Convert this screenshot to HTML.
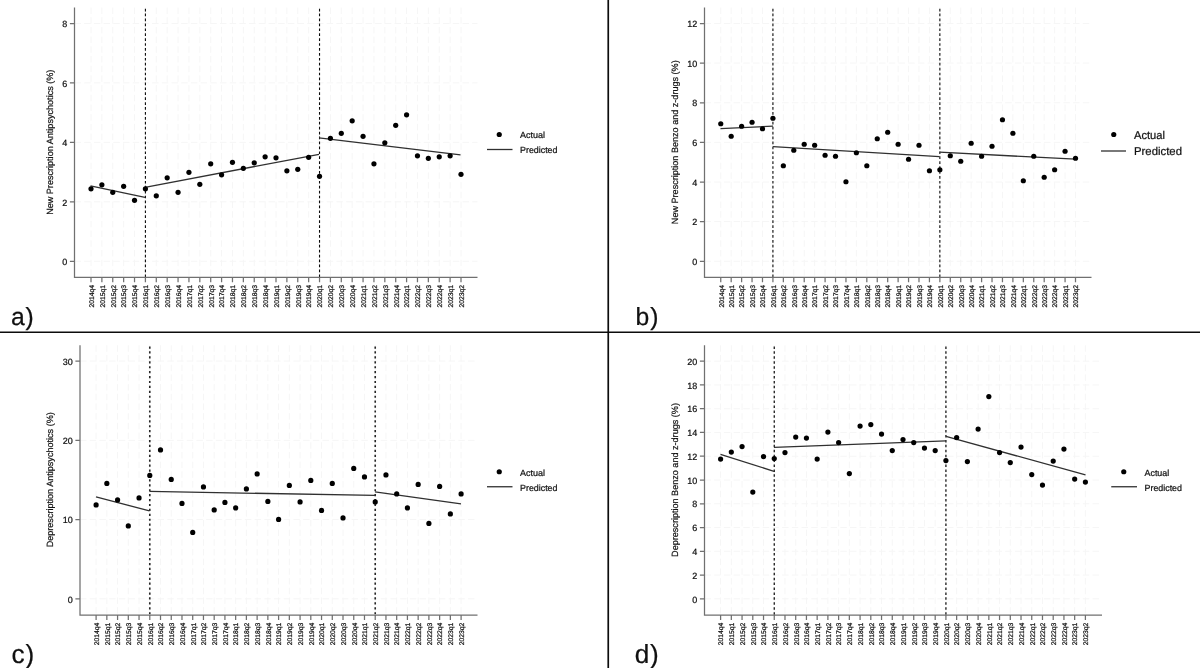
<!DOCTYPE html>
<html lang="en"><head><meta charset="utf-8"><title>Interrupted time series</title>
<style>
html,body{margin:0;padding:0;background:#fff;}
body{width:1200px;height:668px;overflow:hidden;}
svg{display:block;text-rendering:geometricPrecision;font-family:"Liberation Sans",Arial,Helvetica,sans-serif;}
.ax{stroke:#707070;stroke-width:1.25;fill:none;}
.grid{stroke:#f6f6f6;stroke-width:1;stroke-dasharray:6.5 3.2;fill:none;}
.v{fill:none;}
.pred{stroke:#303030;stroke-width:1.3;fill:none;}
.dot{fill:#000;}
text{fill:#111;stroke:#111;stroke-width:0.22;}
</style></head><body>
<svg width="1200" height="668" viewBox="0 0 1200 668">
<rect width="1200" height="668" fill="#fff"/>

<g id="panel-a">
<path class="grid" d="M91.00 7.50V277.45M101.88 7.50V277.45M112.76 7.50V277.45M123.65 7.50V277.45M134.53 7.50V277.45M145.41 7.50V277.45M156.29 7.50V277.45M167.18 7.50V277.45M178.06 7.50V277.45M188.94 7.50V277.45M199.82 7.50V277.45M210.71 7.50V277.45M221.59 7.50V277.45M232.47 7.50V277.45M243.35 7.50V277.45M254.24 7.50V277.45M265.12 7.50V277.45M276.00 7.50V277.45M286.88 7.50V277.45M297.76 7.50V277.45M308.65 7.50V277.45M319.53 7.50V277.45M330.41 7.50V277.45M341.29 7.50V277.45M352.18 7.50V277.45M363.06 7.50V277.45M373.94 7.50V277.45M384.82 7.50V277.45M395.71 7.50V277.45M406.59 7.50V277.45M417.47 7.50V277.45M428.35 7.50V277.45M439.24 7.50V277.45M450.12 7.50V277.45M461.00 7.50V277.45M74.50 23.50H477.50M74.50 82.90H477.50M74.50 142.40H477.50M74.50 201.80H477.50M74.50 261.25H477.50"/>
<path class="v" stroke="#0a0a0a" stroke-width="1.1" stroke-dasharray="2.7 2.22" d="M145.41 8.70V277.45"/>
<path class="v" stroke="#0a0a0a" stroke-width="1.1" stroke-dasharray="2.7 2.22" d="M319.53 8.70V277.45"/>
<path class="ax" d="M74.50 7.50V277.45H477.50M69.90 23.50H74.50M69.90 82.90H74.50M69.90 142.40H74.50M69.90 201.80H74.50M69.90 261.25H74.50M91.00 277.45V282.35M101.88 277.45V282.35M112.76 277.45V282.35M123.65 277.45V282.35M134.53 277.45V282.35M145.41 277.45V282.35M156.29 277.45V282.35M167.18 277.45V282.35M178.06 277.45V282.35M188.94 277.45V282.35M199.82 277.45V282.35M210.71 277.45V282.35M221.59 277.45V282.35M232.47 277.45V282.35M243.35 277.45V282.35M254.24 277.45V282.35M265.12 277.45V282.35M276.00 277.45V282.35M286.88 277.45V282.35M297.76 277.45V282.35M308.65 277.45V282.35M319.53 277.45V282.35M330.41 277.45V282.35M341.29 277.45V282.35M352.18 277.45V282.35M363.06 277.45V282.35M373.94 277.45V282.35M384.82 277.45V282.35M395.71 277.45V282.35M406.59 277.45V282.35M417.47 277.45V282.35M428.35 277.45V282.35M439.24 277.45V282.35M450.12 277.45V282.35M461.00 277.45V282.35"/>
<text x="67.20" y="27.20" font-size="9" text-anchor="end">8</text>
<text x="67.20" y="86.60" font-size="9" text-anchor="end">6</text>
<text x="67.20" y="146.10" font-size="9" text-anchor="end">4</text>
<text x="67.20" y="205.50" font-size="9" text-anchor="end">2</text>
<text x="67.20" y="264.95" font-size="9" text-anchor="end">0</text>
<text transform="translate(93.80 285.05) rotate(-90)" font-size="6.75" text-anchor="end">2014q4</text>
<text transform="translate(104.68 285.05) rotate(-90)" font-size="6.75" text-anchor="end">2015q1</text>
<text transform="translate(115.56 285.05) rotate(-90)" font-size="6.75" text-anchor="end">2015q2</text>
<text transform="translate(126.45 285.05) rotate(-90)" font-size="6.75" text-anchor="end">2015q3</text>
<text transform="translate(137.33 285.05) rotate(-90)" font-size="6.75" text-anchor="end">2015q4</text>
<text transform="translate(148.21 285.05) rotate(-90)" font-size="6.75" text-anchor="end">2016q1</text>
<text transform="translate(159.09 285.05) rotate(-90)" font-size="6.75" text-anchor="end">2016q2</text>
<text transform="translate(169.98 285.05) rotate(-90)" font-size="6.75" text-anchor="end">2016q3</text>
<text transform="translate(180.86 285.05) rotate(-90)" font-size="6.75" text-anchor="end">2016q4</text>
<text transform="translate(191.74 285.05) rotate(-90)" font-size="6.75" text-anchor="end">2017q1</text>
<text transform="translate(202.62 285.05) rotate(-90)" font-size="6.75" text-anchor="end">2017q2</text>
<text transform="translate(213.51 285.05) rotate(-90)" font-size="6.75" text-anchor="end">2017q3</text>
<text transform="translate(224.39 285.05) rotate(-90)" font-size="6.75" text-anchor="end">2017q4</text>
<text transform="translate(235.27 285.05) rotate(-90)" font-size="6.75" text-anchor="end">2018q1</text>
<text transform="translate(246.15 285.05) rotate(-90)" font-size="6.75" text-anchor="end">2018q2</text>
<text transform="translate(257.04 285.05) rotate(-90)" font-size="6.75" text-anchor="end">2018q3</text>
<text transform="translate(267.92 285.05) rotate(-90)" font-size="6.75" text-anchor="end">2018q4</text>
<text transform="translate(278.80 285.05) rotate(-90)" font-size="6.75" text-anchor="end">2019q1</text>
<text transform="translate(289.68 285.05) rotate(-90)" font-size="6.75" text-anchor="end">2019q2</text>
<text transform="translate(300.56 285.05) rotate(-90)" font-size="6.75" text-anchor="end">2019q3</text>
<text transform="translate(311.45 285.05) rotate(-90)" font-size="6.75" text-anchor="end">2019q4</text>
<text transform="translate(322.33 285.05) rotate(-90)" font-size="6.75" text-anchor="end">2020q1</text>
<text transform="translate(333.21 285.05) rotate(-90)" font-size="6.75" text-anchor="end">2020q2</text>
<text transform="translate(344.09 285.05) rotate(-90)" font-size="6.75" text-anchor="end">2020q3</text>
<text transform="translate(354.98 285.05) rotate(-90)" font-size="6.75" text-anchor="end">2020q4</text>
<text transform="translate(365.86 285.05) rotate(-90)" font-size="6.75" text-anchor="end">2021q1</text>
<text transform="translate(376.74 285.05) rotate(-90)" font-size="6.75" text-anchor="end">2021q2</text>
<text transform="translate(387.62 285.05) rotate(-90)" font-size="6.75" text-anchor="end">2021q3</text>
<text transform="translate(398.51 285.05) rotate(-90)" font-size="6.75" text-anchor="end">2021q4</text>
<text transform="translate(409.39 285.05) rotate(-90)" font-size="6.75" text-anchor="end">2022q1</text>
<text transform="translate(420.27 285.05) rotate(-90)" font-size="6.75" text-anchor="end">2022q2</text>
<text transform="translate(431.15 285.05) rotate(-90)" font-size="6.75" text-anchor="end">2022q3</text>
<text transform="translate(442.04 285.05) rotate(-90)" font-size="6.75" text-anchor="end">2022q4</text>
<text transform="translate(452.92 285.05) rotate(-90)" font-size="6.75" text-anchor="end">2023q1</text>
<text transform="translate(463.80 285.05) rotate(-90)" font-size="6.75" text-anchor="end">2023q2</text>
<text transform="translate(52.80 142.25) rotate(-90)" font-size="9.07" text-anchor="middle" textLength="145.2" lengthAdjust="spacingAndGlyphs">New Prescription Antipsychotics (%)</text>
<path class="pred" d="M90.50 185.80L145.00 197.30"/>
<path class="pred" d="M145.00 187.30L319.00 154.30"/>
<path class="pred" d="M319.00 137.80L460.50 154.80"/>
<circle class="dot" cx="91.00" cy="188.80" r="2.6"/>
<circle class="dot" cx="101.88" cy="184.80" r="2.6"/>
<circle class="dot" cx="112.76" cy="192.30" r="2.6"/>
<circle class="dot" cx="123.65" cy="186.30" r="2.6"/>
<circle class="dot" cx="134.53" cy="200.30" r="2.6"/>
<circle class="dot" cx="145.41" cy="188.80" r="2.6"/>
<circle class="dot" cx="156.29" cy="195.80" r="2.6"/>
<circle class="dot" cx="167.18" cy="177.80" r="2.6"/>
<circle class="dot" cx="178.06" cy="192.30" r="2.6"/>
<circle class="dot" cx="188.94" cy="172.30" r="2.6"/>
<circle class="dot" cx="199.82" cy="184.30" r="2.6"/>
<circle class="dot" cx="210.71" cy="163.80" r="2.6"/>
<circle class="dot" cx="221.59" cy="174.80" r="2.6"/>
<circle class="dot" cx="232.47" cy="162.30" r="2.6"/>
<circle class="dot" cx="243.35" cy="168.30" r="2.6"/>
<circle class="dot" cx="254.24" cy="162.80" r="2.6"/>
<circle class="dot" cx="265.12" cy="156.80" r="2.6"/>
<circle class="dot" cx="276.00" cy="157.80" r="2.6"/>
<circle class="dot" cx="286.88" cy="170.80" r="2.6"/>
<circle class="dot" cx="297.76" cy="169.30" r="2.6"/>
<circle class="dot" cx="308.65" cy="157.30" r="2.6"/>
<circle class="dot" cx="319.53" cy="176.30" r="2.6"/>
<circle class="dot" cx="330.41" cy="138.30" r="2.6"/>
<circle class="dot" cx="341.29" cy="133.30" r="2.6"/>
<circle class="dot" cx="352.18" cy="120.80" r="2.6"/>
<circle class="dot" cx="363.06" cy="136.30" r="2.6"/>
<circle class="dot" cx="373.94" cy="163.80" r="2.6"/>
<circle class="dot" cx="384.82" cy="142.80" r="2.6"/>
<circle class="dot" cx="395.71" cy="125.30" r="2.6"/>
<circle class="dot" cx="406.59" cy="114.80" r="2.6"/>
<circle class="dot" cx="417.47" cy="155.80" r="2.6"/>
<circle class="dot" cx="428.35" cy="158.30" r="2.6"/>
<circle class="dot" cx="439.24" cy="156.80" r="2.6"/>
<circle class="dot" cx="450.12" cy="155.80" r="2.6"/>
<circle class="dot" cx="461.00" cy="174.30" r="2.6"/>
<circle class="dot" cx="499.25" cy="134.5" r="2.6"/>
<path class="pred" d="M487 149.5H512.5"/>
<text x="520" y="138.20" font-size="8.9" textLength="25" lengthAdjust="spacingAndGlyphs">Actual</text>
<text x="520" y="153.20" font-size="8.9" textLength="37.5" lengthAdjust="spacingAndGlyphs">Predicted</text>
<text x="11.0" y="324.8" font-size="24.7" fill="#111" stroke="none">a<tspan dx="0.8">)</tspan></text>
</g>
<g id="panel-b">
<path class="grid" d="M720.75 7.50V277.45M731.18 7.50V277.45M741.62 7.50V277.45M752.05 7.50V277.45M762.49 7.50V277.45M772.92 7.50V277.45M783.35 7.50V277.45M793.79 7.50V277.45M804.22 7.50V277.45M814.65 7.50V277.45M825.09 7.50V277.45M835.52 7.50V277.45M845.96 7.50V277.45M856.39 7.50V277.45M866.82 7.50V277.45M877.26 7.50V277.45M887.69 7.50V277.45M898.12 7.50V277.45M908.56 7.50V277.45M918.99 7.50V277.45M929.43 7.50V277.45M939.86 7.50V277.45M950.29 7.50V277.45M960.73 7.50V277.45M971.16 7.50V277.45M981.60 7.50V277.45M992.03 7.50V277.45M1002.46 7.50V277.45M1012.90 7.50V277.45M1023.33 7.50V277.45M1033.76 7.50V277.45M1044.20 7.50V277.45M1054.63 7.50V277.45M1065.07 7.50V277.45M1075.50 7.50V277.45M704.50 23.50H1091.50M704.50 63.10H1091.50M704.50 102.75H1091.50M704.50 142.40H1091.50M704.50 182.00H1091.50M704.50 221.60H1091.50M704.50 261.25H1091.50"/>
<path class="v" stroke="#0a0a0a" stroke-width="1.1" stroke-dasharray="2.7 2.22" d="M772.92 8.70V277.45"/>
<path class="v" stroke="#0a0a0a" stroke-width="1.1" stroke-dasharray="2.7 2.22" d="M939.86 8.70V277.45"/>
<path class="ax" d="M704.50 7.50V277.45H1091.50M699.90 23.50H704.50M699.90 63.10H704.50M699.90 102.75H704.50M699.90 142.40H704.50M699.90 182.00H704.50M699.90 221.60H704.50M699.90 261.25H704.50M720.75 277.45V282.35M731.18 277.45V282.35M741.62 277.45V282.35M752.05 277.45V282.35M762.49 277.45V282.35M772.92 277.45V282.35M783.35 277.45V282.35M793.79 277.45V282.35M804.22 277.45V282.35M814.65 277.45V282.35M825.09 277.45V282.35M835.52 277.45V282.35M845.96 277.45V282.35M856.39 277.45V282.35M866.82 277.45V282.35M877.26 277.45V282.35M887.69 277.45V282.35M898.12 277.45V282.35M908.56 277.45V282.35M918.99 277.45V282.35M929.43 277.45V282.35M939.86 277.45V282.35M950.29 277.45V282.35M960.73 277.45V282.35M971.16 277.45V282.35M981.60 277.45V282.35M992.03 277.45V282.35M1002.46 277.45V282.35M1012.90 277.45V282.35M1023.33 277.45V282.35M1033.76 277.45V282.35M1044.20 277.45V282.35M1054.63 277.45V282.35M1065.07 277.45V282.35M1075.50 277.45V282.35"/>
<text x="697.20" y="27.20" font-size="9" text-anchor="end">12</text>
<text x="697.20" y="66.80" font-size="9" text-anchor="end">10</text>
<text x="697.20" y="106.45" font-size="9" text-anchor="end">8</text>
<text x="697.20" y="146.10" font-size="9" text-anchor="end">6</text>
<text x="697.20" y="185.70" font-size="9" text-anchor="end">4</text>
<text x="697.20" y="225.30" font-size="9" text-anchor="end">2</text>
<text x="697.20" y="264.95" font-size="9" text-anchor="end">0</text>
<text transform="translate(723.55 285.05) rotate(-90)" font-size="6.7" text-anchor="end">2014q4</text>
<text transform="translate(733.98 285.05) rotate(-90)" font-size="6.7" text-anchor="end">2015q1</text>
<text transform="translate(744.42 285.05) rotate(-90)" font-size="6.7" text-anchor="end">2015q2</text>
<text transform="translate(754.85 285.05) rotate(-90)" font-size="6.7" text-anchor="end">2015q3</text>
<text transform="translate(765.29 285.05) rotate(-90)" font-size="6.7" text-anchor="end">2015q4</text>
<text transform="translate(775.72 285.05) rotate(-90)" font-size="6.7" text-anchor="end">2016q1</text>
<text transform="translate(786.15 285.05) rotate(-90)" font-size="6.7" text-anchor="end">2016q2</text>
<text transform="translate(796.59 285.05) rotate(-90)" font-size="6.7" text-anchor="end">2016q3</text>
<text transform="translate(807.02 285.05) rotate(-90)" font-size="6.7" text-anchor="end">2016q4</text>
<text transform="translate(817.45 285.05) rotate(-90)" font-size="6.7" text-anchor="end">2017q1</text>
<text transform="translate(827.89 285.05) rotate(-90)" font-size="6.7" text-anchor="end">2017q2</text>
<text transform="translate(838.32 285.05) rotate(-90)" font-size="6.7" text-anchor="end">2017q3</text>
<text transform="translate(848.76 285.05) rotate(-90)" font-size="6.7" text-anchor="end">2017q4</text>
<text transform="translate(859.19 285.05) rotate(-90)" font-size="6.7" text-anchor="end">2018q1</text>
<text transform="translate(869.62 285.05) rotate(-90)" font-size="6.7" text-anchor="end">2018q2</text>
<text transform="translate(880.06 285.05) rotate(-90)" font-size="6.7" text-anchor="end">2018q3</text>
<text transform="translate(890.49 285.05) rotate(-90)" font-size="6.7" text-anchor="end">2018q4</text>
<text transform="translate(900.92 285.05) rotate(-90)" font-size="6.7" text-anchor="end">2019q1</text>
<text transform="translate(911.36 285.05) rotate(-90)" font-size="6.7" text-anchor="end">2019q2</text>
<text transform="translate(921.79 285.05) rotate(-90)" font-size="6.7" text-anchor="end">2019q3</text>
<text transform="translate(932.23 285.05) rotate(-90)" font-size="6.7" text-anchor="end">2019q4</text>
<text transform="translate(942.66 285.05) rotate(-90)" font-size="6.7" text-anchor="end">2020q1</text>
<text transform="translate(953.09 285.05) rotate(-90)" font-size="6.7" text-anchor="end">2020q2</text>
<text transform="translate(963.53 285.05) rotate(-90)" font-size="6.7" text-anchor="end">2020q3</text>
<text transform="translate(973.96 285.05) rotate(-90)" font-size="6.7" text-anchor="end">2020q4</text>
<text transform="translate(984.40 285.05) rotate(-90)" font-size="6.7" text-anchor="end">2021q1</text>
<text transform="translate(994.83 285.05) rotate(-90)" font-size="6.7" text-anchor="end">2021q2</text>
<text transform="translate(1005.26 285.05) rotate(-90)" font-size="6.7" text-anchor="end">2021q3</text>
<text transform="translate(1015.70 285.05) rotate(-90)" font-size="6.7" text-anchor="end">2021q4</text>
<text transform="translate(1026.13 285.05) rotate(-90)" font-size="6.7" text-anchor="end">2022q1</text>
<text transform="translate(1036.56 285.05) rotate(-90)" font-size="6.7" text-anchor="end">2022q2</text>
<text transform="translate(1047.00 285.05) rotate(-90)" font-size="6.7" text-anchor="end">2022q3</text>
<text transform="translate(1057.43 285.05) rotate(-90)" font-size="6.7" text-anchor="end">2022q4</text>
<text transform="translate(1067.87 285.05) rotate(-90)" font-size="6.7" text-anchor="end">2023q1</text>
<text transform="translate(1078.30 285.05) rotate(-90)" font-size="6.7" text-anchor="end">2023q2</text>
<text transform="translate(677.80 142.25) rotate(-90)" font-size="9.07" text-anchor="middle" textLength="163.8" lengthAdjust="spacingAndGlyphs">New Prescription Benzo and z-drugs (%)</text>
<path class="pred" d="M720.50 128.70L773.00 126.20"/>
<path class="pred" d="M773.00 146.70L939.50 156.70"/>
<path class="pred" d="M939.50 152.20L1075.50 159.20"/>
<circle class="dot" cx="720.75" cy="123.75" r="2.6"/>
<circle class="dot" cx="731.18" cy="136.25" r="2.6"/>
<circle class="dot" cx="741.62" cy="126.25" r="2.6"/>
<circle class="dot" cx="752.05" cy="122.25" r="2.6"/>
<circle class="dot" cx="762.49" cy="128.75" r="2.6"/>
<circle class="dot" cx="772.92" cy="118.25" r="2.6"/>
<circle class="dot" cx="783.35" cy="165.75" r="2.6"/>
<circle class="dot" cx="793.79" cy="150.25" r="2.6"/>
<circle class="dot" cx="804.22" cy="144.25" r="2.6"/>
<circle class="dot" cx="814.65" cy="145.25" r="2.6"/>
<circle class="dot" cx="825.09" cy="155.25" r="2.6"/>
<circle class="dot" cx="835.52" cy="156.25" r="2.6"/>
<circle class="dot" cx="845.96" cy="181.75" r="2.6"/>
<circle class="dot" cx="856.39" cy="152.75" r="2.6"/>
<circle class="dot" cx="866.82" cy="165.75" r="2.6"/>
<circle class="dot" cx="877.26" cy="138.75" r="2.6"/>
<circle class="dot" cx="887.69" cy="132.25" r="2.6"/>
<circle class="dot" cx="898.12" cy="144.25" r="2.6"/>
<circle class="dot" cx="908.56" cy="159.25" r="2.6"/>
<circle class="dot" cx="918.99" cy="145.25" r="2.6"/>
<circle class="dot" cx="929.43" cy="170.75" r="2.6"/>
<circle class="dot" cx="939.86" cy="169.75" r="2.6"/>
<circle class="dot" cx="950.29" cy="155.75" r="2.6"/>
<circle class="dot" cx="960.73" cy="161.25" r="2.6"/>
<circle class="dot" cx="971.16" cy="143.25" r="2.6"/>
<circle class="dot" cx="981.60" cy="156.25" r="2.6"/>
<circle class="dot" cx="992.03" cy="146.25" r="2.6"/>
<circle class="dot" cx="1002.46" cy="119.75" r="2.6"/>
<circle class="dot" cx="1012.90" cy="133.25" r="2.6"/>
<circle class="dot" cx="1023.33" cy="180.75" r="2.6"/>
<circle class="dot" cx="1033.76" cy="156.25" r="2.6"/>
<circle class="dot" cx="1044.20" cy="177.25" r="2.6"/>
<circle class="dot" cx="1054.63" cy="169.75" r="2.6"/>
<circle class="dot" cx="1065.07" cy="151.25" r="2.6"/>
<circle class="dot" cx="1075.50" cy="158.25" r="2.6"/>
<circle class="dot" cx="1113.75" cy="134.5" r="2.6"/>
<path class="pred" d="M1101 151H1126"/>
<text x="1134" y="139.10" font-size="11.4" textLength="31" lengthAdjust="spacingAndGlyphs">Actual</text>
<text x="1134" y="155.10" font-size="11.4" textLength="48" lengthAdjust="spacingAndGlyphs">Predicted</text>
<text x="635.6" y="324.8" font-size="24.7" fill="#111" stroke="none">b<tspan dx="0.8">)</tspan></text>
</g>
<g id="panel-c">
<path class="grid" d="M96.10 345.25V615.15M106.84 345.25V615.15M117.57 345.25V615.15M128.31 345.25V615.15M139.04 345.25V615.15M149.78 345.25V615.15M160.51 345.25V615.15M171.25 345.25V615.15M181.98 345.25V615.15M192.72 345.25V615.15M203.45 345.25V615.15M214.19 345.25V615.15M224.92 345.25V615.15M235.66 345.25V615.15M246.39 345.25V615.15M257.13 345.25V615.15M267.86 345.25V615.15M278.60 345.25V615.15M289.34 345.25V615.15M300.07 345.25V615.15M310.81 345.25V615.15M321.54 345.25V615.15M332.28 345.25V615.15M343.01 345.25V615.15M353.75 345.25V615.15M364.48 345.25V615.15M375.22 345.25V615.15M385.95 345.25V615.15M396.69 345.25V615.15M407.42 345.25V615.15M418.16 345.25V615.15M428.89 345.25V615.15M439.63 345.25V615.15M450.36 345.25V615.15M461.10 345.25V615.15M80.00 361.10H477.50M80.00 440.35H477.50M80.00 519.60H477.50M80.00 598.80H477.50"/>
<path class="v" stroke="#262626" stroke-width="1.6" stroke-dasharray="2.2 2.72" d="M149.78 346.45V615.15"/>
<path class="v" stroke="#262626" stroke-width="1.6" stroke-dasharray="2.2 2.72" d="M375.22 346.45V615.15"/>
<path class="ax" d="M80.00 345.25V615.15H477.50M75.40 361.10H80.00M75.40 440.35H80.00M75.40 519.60H80.00M75.40 598.80H80.00M96.10 615.15V620.05M106.84 615.15V620.05M117.57 615.15V620.05M128.31 615.15V620.05M139.04 615.15V620.05M149.78 615.15V620.05M160.51 615.15V620.05M171.25 615.15V620.05M181.98 615.15V620.05M192.72 615.15V620.05M203.45 615.15V620.05M214.19 615.15V620.05M224.92 615.15V620.05M235.66 615.15V620.05M246.39 615.15V620.05M257.13 615.15V620.05M267.86 615.15V620.05M278.60 615.15V620.05M289.34 615.15V620.05M300.07 615.15V620.05M310.81 615.15V620.05M321.54 615.15V620.05M332.28 615.15V620.05M343.01 615.15V620.05M353.75 615.15V620.05M364.48 615.15V620.05M375.22 615.15V620.05M385.95 615.15V620.05M396.69 615.15V620.05M407.42 615.15V620.05M418.16 615.15V620.05M428.89 615.15V620.05M439.63 615.15V620.05M450.36 615.15V620.05M461.10 615.15V620.05"/>
<text x="72.70" y="364.80" font-size="9" text-anchor="end">30</text>
<text x="72.70" y="444.05" font-size="9" text-anchor="end">20</text>
<text x="72.70" y="523.30" font-size="9" text-anchor="end">10</text>
<text x="72.70" y="602.50" font-size="9" text-anchor="end">0</text>
<text transform="translate(98.90 622.75) rotate(-90)" font-size="6.75" text-anchor="end">2014q4</text>
<text transform="translate(109.64 622.75) rotate(-90)" font-size="6.75" text-anchor="end">2015q1</text>
<text transform="translate(120.37 622.75) rotate(-90)" font-size="6.75" text-anchor="end">2015q2</text>
<text transform="translate(131.11 622.75) rotate(-90)" font-size="6.75" text-anchor="end">2015q3</text>
<text transform="translate(141.84 622.75) rotate(-90)" font-size="6.75" text-anchor="end">2015q4</text>
<text transform="translate(152.58 622.75) rotate(-90)" font-size="6.75" text-anchor="end">2016q1</text>
<text transform="translate(163.31 622.75) rotate(-90)" font-size="6.75" text-anchor="end">2016q2</text>
<text transform="translate(174.05 622.75) rotate(-90)" font-size="6.75" text-anchor="end">2016q3</text>
<text transform="translate(184.78 622.75) rotate(-90)" font-size="6.75" text-anchor="end">2016q4</text>
<text transform="translate(195.52 622.75) rotate(-90)" font-size="6.75" text-anchor="end">2017q1</text>
<text transform="translate(206.25 622.75) rotate(-90)" font-size="6.75" text-anchor="end">2017q2</text>
<text transform="translate(216.99 622.75) rotate(-90)" font-size="6.75" text-anchor="end">2017q3</text>
<text transform="translate(227.72 622.75) rotate(-90)" font-size="6.75" text-anchor="end">2017q4</text>
<text transform="translate(238.46 622.75) rotate(-90)" font-size="6.75" text-anchor="end">2018q1</text>
<text transform="translate(249.19 622.75) rotate(-90)" font-size="6.75" text-anchor="end">2018q2</text>
<text transform="translate(259.93 622.75) rotate(-90)" font-size="6.75" text-anchor="end">2018q3</text>
<text transform="translate(270.66 622.75) rotate(-90)" font-size="6.75" text-anchor="end">2018q4</text>
<text transform="translate(281.40 622.75) rotate(-90)" font-size="6.75" text-anchor="end">2019q1</text>
<text transform="translate(292.14 622.75) rotate(-90)" font-size="6.75" text-anchor="end">2019q2</text>
<text transform="translate(302.87 622.75) rotate(-90)" font-size="6.75" text-anchor="end">2019q3</text>
<text transform="translate(313.61 622.75) rotate(-90)" font-size="6.75" text-anchor="end">2019q4</text>
<text transform="translate(324.34 622.75) rotate(-90)" font-size="6.75" text-anchor="end">2020q1</text>
<text transform="translate(335.08 622.75) rotate(-90)" font-size="6.75" text-anchor="end">2020q2</text>
<text transform="translate(345.81 622.75) rotate(-90)" font-size="6.75" text-anchor="end">2020q3</text>
<text transform="translate(356.55 622.75) rotate(-90)" font-size="6.75" text-anchor="end">2020q4</text>
<text transform="translate(367.28 622.75) rotate(-90)" font-size="6.75" text-anchor="end">2021q1</text>
<text transform="translate(378.02 622.75) rotate(-90)" font-size="6.75" text-anchor="end">2021q2</text>
<text transform="translate(388.75 622.75) rotate(-90)" font-size="6.75" text-anchor="end">2021q3</text>
<text transform="translate(399.49 622.75) rotate(-90)" font-size="6.75" text-anchor="end">2021q4</text>
<text transform="translate(410.22 622.75) rotate(-90)" font-size="6.75" text-anchor="end">2022q1</text>
<text transform="translate(420.96 622.75) rotate(-90)" font-size="6.75" text-anchor="end">2022q2</text>
<text transform="translate(431.69 622.75) rotate(-90)" font-size="6.75" text-anchor="end">2022q3</text>
<text transform="translate(442.43 622.75) rotate(-90)" font-size="6.75" text-anchor="end">2022q4</text>
<text transform="translate(453.16 622.75) rotate(-90)" font-size="6.75" text-anchor="end">2023q1</text>
<text transform="translate(463.90 622.75) rotate(-90)" font-size="6.75" text-anchor="end">2023q2</text>
<text transform="translate(52.80 479.80) rotate(-90)" font-size="9.07" text-anchor="middle" textLength="135.1" lengthAdjust="spacingAndGlyphs">Deprescription Antipsychotics (%)</text>
<path class="pred" d="M96.00 496.90L149.50 510.90"/>
<path class="pred" d="M149.50 491.40L375.00 495.40"/>
<path class="pred" d="M375.00 491.90L461.00 503.90"/>
<circle class="dot" cx="96.10" cy="504.95" r="2.6"/>
<circle class="dot" cx="106.84" cy="483.45" r="2.6"/>
<circle class="dot" cx="117.57" cy="499.95" r="2.6"/>
<circle class="dot" cx="128.31" cy="525.95" r="2.6"/>
<circle class="dot" cx="139.04" cy="497.95" r="2.6"/>
<circle class="dot" cx="149.78" cy="475.45" r="2.6"/>
<circle class="dot" cx="160.51" cy="449.95" r="2.6"/>
<circle class="dot" cx="171.25" cy="479.45" r="2.6"/>
<circle class="dot" cx="181.98" cy="503.45" r="2.6"/>
<circle class="dot" cx="192.72" cy="532.45" r="2.6"/>
<circle class="dot" cx="203.45" cy="486.95" r="2.6"/>
<circle class="dot" cx="214.19" cy="509.95" r="2.6"/>
<circle class="dot" cx="224.92" cy="502.45" r="2.6"/>
<circle class="dot" cx="235.66" cy="507.95" r="2.6"/>
<circle class="dot" cx="246.39" cy="488.95" r="2.6"/>
<circle class="dot" cx="257.13" cy="473.95" r="2.6"/>
<circle class="dot" cx="267.86" cy="501.45" r="2.6"/>
<circle class="dot" cx="278.60" cy="519.45" r="2.6"/>
<circle class="dot" cx="289.34" cy="485.45" r="2.6"/>
<circle class="dot" cx="300.07" cy="501.95" r="2.6"/>
<circle class="dot" cx="310.81" cy="480.45" r="2.6"/>
<circle class="dot" cx="321.54" cy="510.45" r="2.6"/>
<circle class="dot" cx="332.28" cy="483.45" r="2.6"/>
<circle class="dot" cx="343.01" cy="517.95" r="2.6"/>
<circle class="dot" cx="353.75" cy="468.45" r="2.6"/>
<circle class="dot" cx="364.48" cy="476.95" r="2.6"/>
<circle class="dot" cx="375.22" cy="501.95" r="2.6"/>
<circle class="dot" cx="385.95" cy="474.95" r="2.6"/>
<circle class="dot" cx="396.69" cy="493.95" r="2.6"/>
<circle class="dot" cx="407.42" cy="507.95" r="2.6"/>
<circle class="dot" cx="418.16" cy="484.45" r="2.6"/>
<circle class="dot" cx="428.89" cy="523.45" r="2.6"/>
<circle class="dot" cx="439.63" cy="486.45" r="2.6"/>
<circle class="dot" cx="450.36" cy="513.95" r="2.6"/>
<circle class="dot" cx="461.10" cy="493.95" r="2.6"/>
<circle class="dot" cx="499.25" cy="471.75" r="2.6"/>
<path class="pred" d="M487 486.75H512.5"/>
<text x="520" y="475.95" font-size="8.9" textLength="25" lengthAdjust="spacingAndGlyphs">Actual</text>
<text x="520" y="490.70" font-size="8.9" textLength="37.5" lengthAdjust="spacingAndGlyphs">Predicted</text>
<text x="11.5" y="662.9" font-size="26.2" fill="#111" stroke="none">c<tspan dx="0.8">)</tspan></text>
</g>
<g id="panel-d">
<path class="grid" d="M720.60 345.25V615.15M731.33 345.25V615.15M742.06 345.25V615.15M752.79 345.25V615.15M763.52 345.25V615.15M774.25 345.25V615.15M784.98 345.25V615.15M795.71 345.25V615.15M806.44 345.25V615.15M817.16 345.25V615.15M827.89 345.25V615.15M838.62 345.25V615.15M849.35 345.25V615.15M860.08 345.25V615.15M870.81 345.25V615.15M881.54 345.25V615.15M892.27 345.25V615.15M903.00 345.25V615.15M913.73 345.25V615.15M924.46 345.25V615.15M935.19 345.25V615.15M945.92 345.25V615.15M956.65 345.25V615.15M967.38 345.25V615.15M978.11 345.25V615.15M988.84 345.25V615.15M999.56 345.25V615.15M1010.29 345.25V615.15M1021.02 345.25V615.15M1031.75 345.25V615.15M1042.48 345.25V615.15M1053.21 345.25V615.15M1063.94 345.25V615.15M1074.67 345.25V615.15M1085.40 345.25V615.15M704.50 361.20H1102.00M704.50 384.96H1102.00M704.50 408.72H1102.00M704.50 432.48H1102.00M704.50 456.24H1102.00M704.50 480.00H1102.00M704.50 503.76H1102.00M704.50 527.52H1102.00M704.50 551.28H1102.00M704.50 575.04H1102.00M704.50 598.80H1102.00"/>
<path class="v" stroke="#0f0f0f" stroke-width="1.25" stroke-dasharray="2.5 2.42" d="M774.25 346.45V615.15"/>
<path class="v" stroke="#0f0f0f" stroke-width="1.25" stroke-dasharray="2.5 2.42" d="M945.92 346.45V615.15"/>
<path class="ax" d="M704.50 345.25V615.15H1102.00M699.90 361.20H704.50M699.90 384.96H704.50M699.90 408.72H704.50M699.90 432.48H704.50M699.90 456.24H704.50M699.90 480.00H704.50M699.90 503.76H704.50M699.90 527.52H704.50M699.90 551.28H704.50M699.90 575.04H704.50M699.90 598.80H704.50M720.60 615.15V620.05M731.33 615.15V620.05M742.06 615.15V620.05M752.79 615.15V620.05M763.52 615.15V620.05M774.25 615.15V620.05M784.98 615.15V620.05M795.71 615.15V620.05M806.44 615.15V620.05M817.16 615.15V620.05M827.89 615.15V620.05M838.62 615.15V620.05M849.35 615.15V620.05M860.08 615.15V620.05M870.81 615.15V620.05M881.54 615.15V620.05M892.27 615.15V620.05M903.00 615.15V620.05M913.73 615.15V620.05M924.46 615.15V620.05M935.19 615.15V620.05M945.92 615.15V620.05M956.65 615.15V620.05M967.38 615.15V620.05M978.11 615.15V620.05M988.84 615.15V620.05M999.56 615.15V620.05M1010.29 615.15V620.05M1021.02 615.15V620.05M1031.75 615.15V620.05M1042.48 615.15V620.05M1053.21 615.15V620.05M1063.94 615.15V620.05M1074.67 615.15V620.05M1085.40 615.15V620.05"/>
<text x="697.20" y="364.90" font-size="9" text-anchor="end">20</text>
<text x="697.20" y="388.66" font-size="9" text-anchor="end">18</text>
<text x="697.20" y="412.42" font-size="9" text-anchor="end">16</text>
<text x="697.20" y="436.18" font-size="9" text-anchor="end">14</text>
<text x="697.20" y="459.94" font-size="9" text-anchor="end">12</text>
<text x="697.20" y="483.70" font-size="9" text-anchor="end">10</text>
<text x="697.20" y="507.46" font-size="9" text-anchor="end">8</text>
<text x="697.20" y="531.22" font-size="9" text-anchor="end">6</text>
<text x="697.20" y="554.98" font-size="9" text-anchor="end">4</text>
<text x="697.20" y="578.74" font-size="9" text-anchor="end">2</text>
<text x="697.20" y="602.50" font-size="9" text-anchor="end">0</text>
<text transform="translate(723.40 622.75) rotate(-90)" font-size="6.75" text-anchor="end">2014q4</text>
<text transform="translate(734.13 622.75) rotate(-90)" font-size="6.75" text-anchor="end">2015q1</text>
<text transform="translate(744.86 622.75) rotate(-90)" font-size="6.75" text-anchor="end">2015q2</text>
<text transform="translate(755.59 622.75) rotate(-90)" font-size="6.75" text-anchor="end">2015q3</text>
<text transform="translate(766.32 622.75) rotate(-90)" font-size="6.75" text-anchor="end">2015q4</text>
<text transform="translate(777.05 622.75) rotate(-90)" font-size="6.75" text-anchor="end">2016q1</text>
<text transform="translate(787.78 622.75) rotate(-90)" font-size="6.75" text-anchor="end">2016q2</text>
<text transform="translate(798.51 622.75) rotate(-90)" font-size="6.75" text-anchor="end">2016q3</text>
<text transform="translate(809.24 622.75) rotate(-90)" font-size="6.75" text-anchor="end">2016q4</text>
<text transform="translate(819.96 622.75) rotate(-90)" font-size="6.75" text-anchor="end">2017q1</text>
<text transform="translate(830.69 622.75) rotate(-90)" font-size="6.75" text-anchor="end">2017q2</text>
<text transform="translate(841.42 622.75) rotate(-90)" font-size="6.75" text-anchor="end">2017q3</text>
<text transform="translate(852.15 622.75) rotate(-90)" font-size="6.75" text-anchor="end">2017q4</text>
<text transform="translate(862.88 622.75) rotate(-90)" font-size="6.75" text-anchor="end">2018q1</text>
<text transform="translate(873.61 622.75) rotate(-90)" font-size="6.75" text-anchor="end">2018q2</text>
<text transform="translate(884.34 622.75) rotate(-90)" font-size="6.75" text-anchor="end">2018q3</text>
<text transform="translate(895.07 622.75) rotate(-90)" font-size="6.75" text-anchor="end">2018q4</text>
<text transform="translate(905.80 622.75) rotate(-90)" font-size="6.75" text-anchor="end">2019q1</text>
<text transform="translate(916.53 622.75) rotate(-90)" font-size="6.75" text-anchor="end">2019q2</text>
<text transform="translate(927.26 622.75) rotate(-90)" font-size="6.75" text-anchor="end">2019q3</text>
<text transform="translate(937.99 622.75) rotate(-90)" font-size="6.75" text-anchor="end">2019q4</text>
<text transform="translate(948.72 622.75) rotate(-90)" font-size="6.75" text-anchor="end">2020q1</text>
<text transform="translate(959.45 622.75) rotate(-90)" font-size="6.75" text-anchor="end">2020q2</text>
<text transform="translate(970.18 622.75) rotate(-90)" font-size="6.75" text-anchor="end">2020q3</text>
<text transform="translate(980.91 622.75) rotate(-90)" font-size="6.75" text-anchor="end">2020q4</text>
<text transform="translate(991.64 622.75) rotate(-90)" font-size="6.75" text-anchor="end">2021q1</text>
<text transform="translate(1002.36 622.75) rotate(-90)" font-size="6.75" text-anchor="end">2021q2</text>
<text transform="translate(1013.09 622.75) rotate(-90)" font-size="6.75" text-anchor="end">2021q3</text>
<text transform="translate(1023.82 622.75) rotate(-90)" font-size="6.75" text-anchor="end">2021q4</text>
<text transform="translate(1034.55 622.75) rotate(-90)" font-size="6.75" text-anchor="end">2022q1</text>
<text transform="translate(1045.28 622.75) rotate(-90)" font-size="6.75" text-anchor="end">2022q2</text>
<text transform="translate(1056.01 622.75) rotate(-90)" font-size="6.75" text-anchor="end">2022q3</text>
<text transform="translate(1066.74 622.75) rotate(-90)" font-size="6.75" text-anchor="end">2022q4</text>
<text transform="translate(1077.47 622.75) rotate(-90)" font-size="6.75" text-anchor="end">2023q1</text>
<text transform="translate(1088.20 622.75) rotate(-90)" font-size="6.75" text-anchor="end">2023q2</text>
<text transform="translate(677.80 480.00) rotate(-90)" font-size="9.07" text-anchor="middle" textLength="153.8" lengthAdjust="spacingAndGlyphs">Deprescription Benzo and z-drugs (%)</text>
<path class="pred" d="M720.50 454.35L774.00 471.35"/>
<path class="pred" d="M774.00 447.35L946.00 440.85"/>
<path class="pred" d="M946.00 436.35L1085.50 474.85"/>
<circle class="dot" cx="720.60" cy="459.05" r="2.6"/>
<circle class="dot" cx="731.33" cy="452.05" r="2.6"/>
<circle class="dot" cx="742.06" cy="446.55" r="2.6"/>
<circle class="dot" cx="752.79" cy="492.05" r="2.6"/>
<circle class="dot" cx="763.52" cy="456.55" r="2.6"/>
<circle class="dot" cx="774.25" cy="458.55" r="2.6"/>
<circle class="dot" cx="784.98" cy="452.55" r="2.6"/>
<circle class="dot" cx="795.71" cy="437.05" r="2.6"/>
<circle class="dot" cx="806.44" cy="438.05" r="2.6"/>
<circle class="dot" cx="817.16" cy="459.05" r="2.6"/>
<circle class="dot" cx="827.89" cy="432.05" r="2.6"/>
<circle class="dot" cx="838.62" cy="442.55" r="2.6"/>
<circle class="dot" cx="849.35" cy="473.55" r="2.6"/>
<circle class="dot" cx="860.08" cy="426.05" r="2.6"/>
<circle class="dot" cx="870.81" cy="424.55" r="2.6"/>
<circle class="dot" cx="881.54" cy="434.05" r="2.6"/>
<circle class="dot" cx="892.27" cy="450.55" r="2.6"/>
<circle class="dot" cx="903.00" cy="439.55" r="2.6"/>
<circle class="dot" cx="913.73" cy="442.55" r="2.6"/>
<circle class="dot" cx="924.46" cy="448.05" r="2.6"/>
<circle class="dot" cx="935.19" cy="450.55" r="2.6"/>
<circle class="dot" cx="945.92" cy="460.55" r="2.6"/>
<circle class="dot" cx="956.65" cy="437.55" r="2.6"/>
<circle class="dot" cx="967.38" cy="461.55" r="2.6"/>
<circle class="dot" cx="978.11" cy="429.05" r="2.6"/>
<circle class="dot" cx="988.84" cy="396.55" r="2.6"/>
<circle class="dot" cx="999.56" cy="452.55" r="2.6"/>
<circle class="dot" cx="1010.29" cy="462.55" r="2.6"/>
<circle class="dot" cx="1021.02" cy="447.05" r="2.6"/>
<circle class="dot" cx="1031.75" cy="474.55" r="2.6"/>
<circle class="dot" cx="1042.48" cy="485.05" r="2.6"/>
<circle class="dot" cx="1053.21" cy="461.05" r="2.6"/>
<circle class="dot" cx="1063.94" cy="449.05" r="2.6"/>
<circle class="dot" cx="1074.67" cy="479.05" r="2.6"/>
<circle class="dot" cx="1085.40" cy="482.05" r="2.6"/>
<circle class="dot" cx="1123.75" cy="471.75" r="2.6"/>
<path class="pred" d="M1111.25 486.75H1137"/>
<text x="1144.5" y="475.95" font-size="8.9" textLength="24.75" lengthAdjust="spacingAndGlyphs">Actual</text>
<text x="1144.5" y="490.70" font-size="8.9" textLength="37.5" lengthAdjust="spacingAndGlyphs">Predicted</text>
<text x="634.7" y="662.7" font-size="26.2" fill="#111" stroke="none">d<tspan dx="0.8">)</tspan></text>
</g>
<path d="M0 332.35H1200" stroke="#0c0c0c" stroke-width="1.5"/>
<path d="M608.25 0V668" stroke="#0c0c0c" stroke-width="1.7"/>
</svg></body></html>
